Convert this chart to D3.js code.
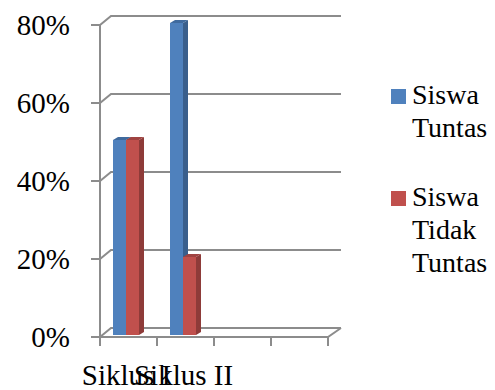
<!DOCTYPE html>
<html><head><meta charset="utf-8">
<script src="https://cdn.jsdelivr.net/npm/d3@7"></script>
<style>body{margin:0;background:#fff}svg{display:block}text{font-family:"Liberation Serif","Times New Roman","DejaVu Serif",serif}</style>
</head><body>
<script>
const categories = ["Siklus I", "Siklus II", "", ""];
const seriesNames = ["Siswa Tuntas", "Siswa Tidak Tuntas"];
const tuntas = [0.50, 0.80, null, null];
const tidakTuntas = [0.50, 0.20, null, null];
const tickValues = [0, 0.2, 0.4, 0.6, 0.8];
const legendLines = [["Siswa", "Tuntas"], ["Siswa", "Tidak", "Tuntas"]];

const W = 495, H = 390;
const colors = ["#4F81BD", "#C0504D"];
const sideColors = ["#3A5F8C", "#8E3B39"];
const topColors = ["#3F6A9E", "#A04341"];
const grid = "#8C8C8C";

const svg = d3.select("body").append("svg").attr("width", W).attr("height", H);

const x = d3.scaleBand().domain(d3.range(categories.length)).range([100, 328]).padding(0);
const y = d3.scaleLinear().domain([0, 0.8]).range([337, 25]);
const yBar = d3.scaleLinear().domain([0, 0.8]).range([335, 23]);
const backDx = 11, backDy = -9, backRight = 341;

const g = svg.append("g").attr("fill", "none").attr("stroke", grid).attr("stroke-width", 2);
tickValues.forEach(v => {
  const yy = y(v);
  g.append("path").attr("d",
    `M91,${yy}L100,${yy}L${100 + backDx},${yy + backDy}L${backRight},${yy + backDy}`);
});
g.append("line").attr("x1", 100).attr("x2", 100).attr("y1", y(0.8)).attr("y2", y(0) + 9);
g.append("path").attr("d", `M100,${y(0)}L${x.range()[1]},${y(0)}L${backRight},${y(0) + backDy}`);
d3.range(categories.length + 1).forEach(i => {
  const xx = i < categories.length ? x(i) : x.range()[1];
  g.append("line").attr("x1", xx).attr("x2", xx).attr("y1", y(0)).attr("y2", y(0) + 9);
});

svg.append("g").selectAll("text").data(tickValues).join("text")
  .attr("x", 70).attr("y", d => y(d) + 10)
  .attr("text-anchor", "end").attr("font-size", 29).attr("fill", "#000")
  .text(d => d3.format(".0%")(d));

const barW = 13, dX = 5, dY = -3, barOff = 13;
const series = [tuntas, tidakTuntas];
const bars = svg.append("g");
categories.forEach((c, i) => {
  series.forEach((vals, s) => {
    const v = vals[i];
    if (v == null) return;
    const x0 = x(i) + barOff + s * barW, x1 = x0 + barW;
    const yt = yBar(v), yb = yBar(0);
    bars.append("path").attr("fill", sideColors[s])
      .attr("d", `M${x1},${yb}L${x1 + dX},${yb + dY}L${x1 + dX},${yt + dY}L${x1},${yt}Z`);
    bars.append("path").attr("fill", topColors[s])
      .attr("d", `M${x0},${yt}L${x0 + dX},${yt + dY}L${x1 + dX},${yt + dY}L${x1},${yt}Z`);
    bars.append("rect").attr("fill", colors[s]).attr("x", x0).attr("y", yt)
      .attr("width", barW).attr("height", yb - yt);
  });
});

svg.append("g").selectAll("text").data(categories).join("text")
  .attr("x", (d, i) => x(i) + x.bandwidth() / 2 - 2).attr("y", 385)
  .attr("text-anchor", "middle").attr("font-size", 29).attr("fill", "#000")
  .text(d => d);

const legY = [89, 191];
const leg = svg.append("g");
seriesNames.forEach((n, s) => {
  leg.append("rect").attr("x", 391).attr("y", legY[s]).attr("width", 15).attr("height", 15).attr("fill", colors[s]);
  const t = leg.append("text").attr("font-size", 28).attr("fill", "#000");
  legendLines[s].forEach((ln, k) => {
    t.append("tspan").attr("x", 412).attr("y", legY[s] + 15 + k * 33).text(ln);
  });
});
</script>
</body></html>
